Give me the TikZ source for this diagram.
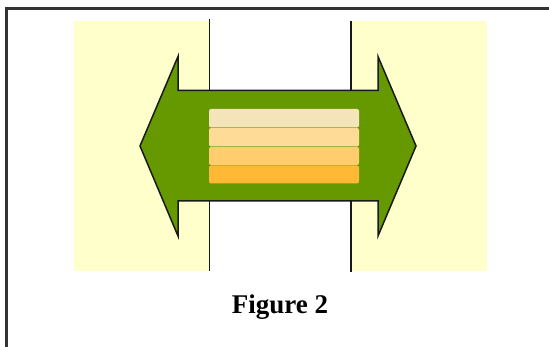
\documentclass[tikz,border=0pt]{standalone}
\usepackage{fontspec}
\setmainfont{Liberation Serif}
\definecolor{paleyellow}{HTML}{FFFFCC}
\definecolor{arrowgreen}{HTML}{669900}
\definecolor{stripeA}{HTML}{F5E4BA}
\definecolor{stripeB}{HTML}{FEDB96}
\definecolor{stripeC}{HTML}{FFCD6E}
\definecolor{stripeD}{HTML}{FFB935}
\tikzset{
  zone/.style={fill=paleyellow, draw=none},
  divider/.style={draw=black!90, line width=1.4pt},
  blockarrow/.style={fill=arrowgreen, draw=black!90, line width=1.5pt, line join=miter},
  stripe/.style={draw=none, rounded corners=2pt},
  frame/.style={draw=black!80, line width=2.2pt},
  caption/.style={font=\bfseries\fontsize{27}{30}\selectfont, inner sep=0pt}
}
\begin{document}
\begin{tikzpicture}[x=1pt,y=-1pt]
  \useasboundingbox (0,0) rectangle (549,347);
  % outer frame (right and bottom edges fall outside the page)
  \draw[frame] (6.5,8.5) rectangle (600,400);
  % pale side zones
  \fill[zone] (74,21) rectangle (209.5,271.5);
  \fill[zone] (351,21) rectangle (487,271.5);
  % dividers
  \draw[divider] (209.5,19.5) -- (209.5,271.5);
  \draw[divider] (351,21) -- (351,272.5);
  % double-headed block arrow
  \draw[blockarrow] (140,146) -- (178,56.5) -- (178,90.5) -- (378,90.5) -- (378,56.5)
    -- (416,146) -- (378,236) -- (378,201) -- (178,201) -- (178,236) -- cycle;
  % stacked bars
  \fill[stripe, stripeA] (209,109) rectangle (359,127.5);
  \fill[stripe, stripeB] (209,128) rectangle (359,146.5);
  \fill[stripe, stripeC] (209,147) rectangle (359,165);
  \fill[stripe, stripeD] (209,165.5) rectangle (359,183.5);
  % caption
  \node[caption, anchor=base] (cap) at (280,314) {Figure 2};
\end{tikzpicture}
\end{document}
